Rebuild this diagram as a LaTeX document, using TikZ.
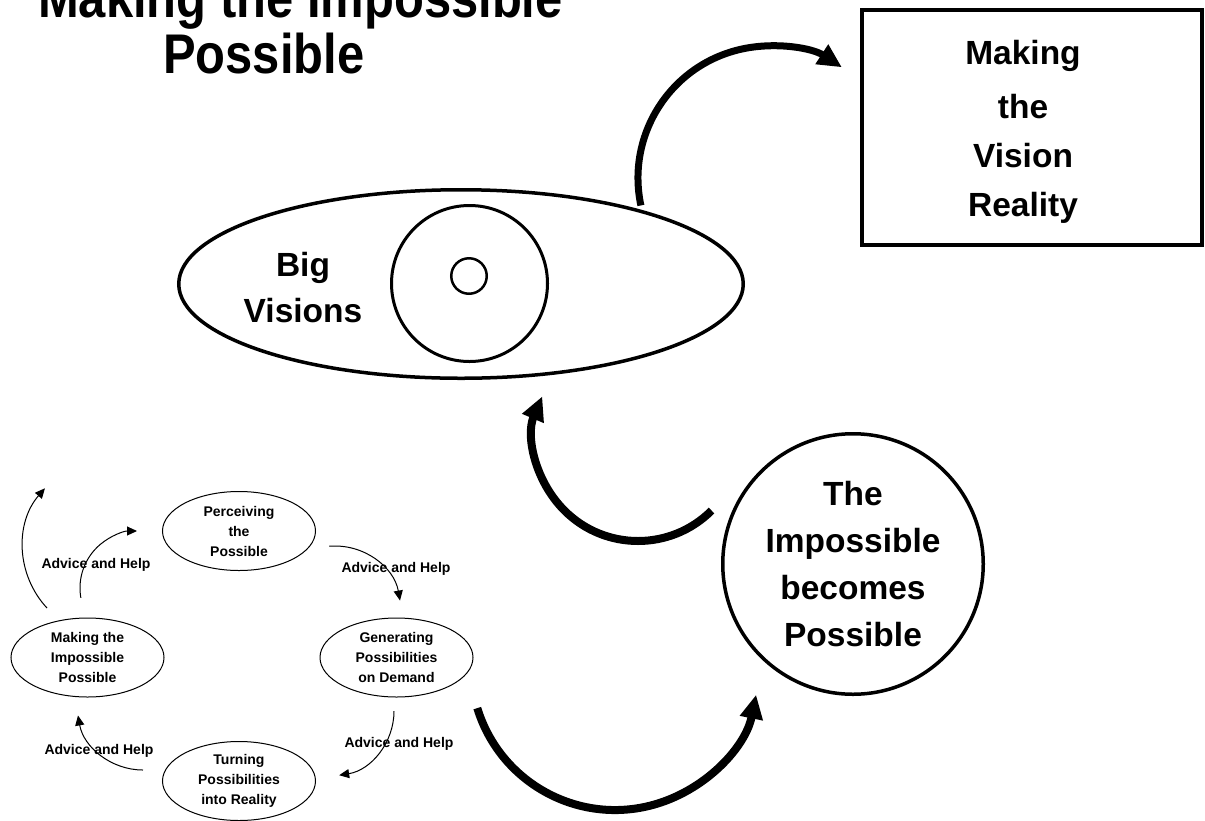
\documentclass[tikz,border=0pt]{standalone}
\usepackage{fontspec}
\setmainfont{Liberation Sans}
\newfontfamily\titlefont{Liberation Sans}[FakeStretch=0.875]
\usetikzlibrary{shapes.geometric,arrows.meta}
\begin{document}
\begin{tikzpicture}[x=1pt,y=1pt,
  outline/.style={draw, inner sep=0pt, outer sep=0pt},
  bigtext/.style={font=\bfseries\fontsize{33.5pt}{47pt}\selectfont, align=center, inner sep=0pt},
  smalltext/.style={font=\bfseries\fontsize{14pt}{20pt}\selectfont, align=center, inner sep=0pt},
  smallell/.style={draw, ellipse, line width=1pt, minimum width=153pt, minimum height=79pt, inner sep=0pt, smalltext},
  thickarrow/.style={line width=8pt, -{Triangle[length=24pt,width=22pt]}},
  thinarrow/.style={line width=1pt, -{Triangle[length=10pt,width=9pt]}},
  titletext/.style={font=\titlefont\bfseries\fontsize{55.9pt}{56pt}\selectfont, inner sep=0pt, anchor=base west}
]
\useasboundingbox (0,0) rectangle (1205,-820);
\fill[white] (0,0) rectangle (1205,-820);

% title
\node[titletext] (title1) at (38,-17) {Making the Impossible};
\node[titletext] (title2) at (163,-73) {Possible};

% big visions
\node[outline, ellipse, line width=3.5pt, minimum width=564.5pt, minimum height=188.5pt] (bv) at (461,-284) {};
\node[outline, circle, line width=3pt, minimum size=156pt] (eye) at (469.5,-283.5) {};
\node[outline, circle, line width=2.5pt, minimum size=35.5pt] (pupil) at (469,-276) {};
\node[bigtext, font=\bfseries\fontsize{33.5pt}{46pt}\selectfont] (bvtext) at (303,-288) {Big\\Visions};

% making the vision reality
\node[outline, rectangle, line width=4pt, minimum width=340pt, minimum height=235pt] (mv) at (1032,-127.5) {};
\node[bigtext, font=\bfseries\fontsize{33.5pt}{49pt}\selectfont] (mvtext) at (1023,-131.5) {Making\\[5pt]the\\Vision\\Reality};

% impossible becomes possible
\node[outline, circle, line width=3.5pt, minimum size=260.5pt, bigtext] (imp) at (853,-564) {The\\Impossible\\becomes\\Possible};

% small cycle
\node[smallell] (per) at (239,-531) {Perceiving\\the\\Possible};
\node[smallell] (gen) at (396.5,-657.5) {Generating\\Possibilities\\on Demand};
\node[smallell] (mip) at (87.5,-657.5) {Making the\\Impossible\\Possible};
\node[smallell] (turn) at (239,-781) {Turning\\Possibilities\\into Reality};

\node[smalltext, anchor=base] (l1) at (96,-568) {Advice and Help};
\node[smalltext, anchor=base] (l2) at (396,-572) {Advice and Help};
\node[smalltext, anchor=base] (l3) at (399,-747) {Advice and Help};
\node[smalltext, anchor=base] (l4) at (99,-754) {Advice and Help};

% thin arrows
\coordinate (t1) at ([shift={(223:89.5)}]112.5,-547);
\coordinate (t2) at ([shift={(190:57)}]137,-588);
\coordinate (t3) at ([shift={(95:66)}]335,-612);
\coordinate (t4) at ([shift={(0:65)}]329,-711);
\coordinate (t5) at ([shift={(270:66)}]143,-704);
\draw[thinarrow] (t1) arc[start angle=223, end angle=139, radius=89.5];
\draw[thinarrow] (t2) arc[start angle=190, end angle=90, radius=57];
\draw[thinarrow] (t3) arc[start angle=95, end angle=10, radius=66];
\draw[thinarrow] (t4) arc[start angle=0, end angle=-81, radius=65];
\draw[thinarrow] (t5) arc[start angle=270, end angle=190, radius=66];

% thick arrows
\coordinate (a3) at ([shift={(192:132)}]770,-178);
\coordinate (a1) at ([shift={(-45:104)}]638,-437);
\coordinate (a2) at ([shift={(-163:144)}]615,-666);
\draw[thickarrow, line width=7pt] (a3) arc[start angle=192, end angle=57, radius=132];
\draw[thickarrow] (a1) arc[start angle=-45, end angle=-203, radius=104];
\draw[thickarrow] (a2) arc[start angle=-163, end angle=-11.5, radius=144];
\end{tikzpicture}
\end{document}
